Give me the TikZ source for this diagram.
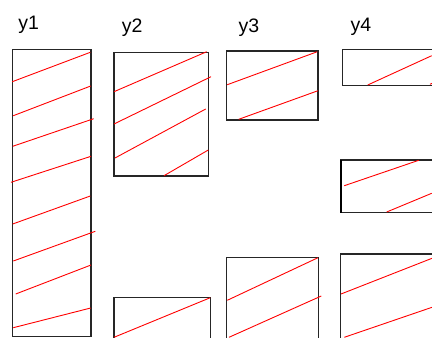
\documentclass[tikz,border=0pt]{standalone}
\usepackage{fontspec}
\setmainfont{Liberation Sans}
\begin{document}
\begin{tikzpicture}[x=1pt,y=-1pt,
  frame/.style={draw=black!85,line width=1.1pt},
  hatch/.style={draw=red,line width=0.9pt},
  lbl/.style={anchor=base west,inner sep=0pt,font=\fontsize{19.5}{20}\selectfont}]
\useasboundingbox (0,0) rectangle (432,338);
\clip (0,0) rectangle (432,338);

% column labels
\node[lbl] (l1) at (18.3,29.5) {y1};
\node[lbl] (l2) at (121.7,32.3) {y2};
\node[lbl] (l3) at (238.5,32.3) {y3};
\node[lbl] (l4) at (350.3,31) {y4};

% column 1
\draw[frame] (12.3,49.3) rectangle (91,336.5);
\draw[hatch] (12.3,81.7) -- (90.3,52.3);
\draw[hatch] (13.3,115.7) -- (90.7,86);
\draw[hatch] (12.7,146.3) -- (93.7,118.7);
\draw[hatch] (11,182.3) -- (91,156.3);
\draw[hatch] (12.7,224) -- (90.3,196);
\draw[hatch] (13.3,261) -- (95.3,231.3);
\draw[hatch] (15.7,294) -- (91,265);
\draw[hatch] (13.3,327.7) -- (90.7,308);

% column 2
\draw[frame] (114,52.7) rectangle (208.5,176);
\draw[hatch] (114,91.7) -- (206.7,51.7);
\draw[hatch] (114,124) -- (211,76.7);
\draw[hatch] (115,158) -- (205.7,109);
\draw[hatch] (164,175.7) -- (208.3,150);
\draw[frame] (114,297.3) rectangle (210.3,338.6);
\draw[hatch] (114,337.3) -- (210.3,297.7);

% column 3
\draw[frame] (226.3,51) rectangle (318,120);
\draw[hatch] (227.3,84.7) -- (317.3,51.7);
\draw[hatch] (238.7,119.3) -- (318,90.7);
\draw[frame] (226.3,257.7) rectangle (318.7,340);
\draw[hatch] (227.3,300.3) -- (318,257.7);
\draw[hatch] (229,337.3) -- (321.3,296);

% column 4
\draw[frame] (342.3,49.7) rectangle (440,85.7);
\draw[hatch] (367.7,85) -- (431.7,55.7);
\draw[hatch] (430,84.3) -- (440,79.8);
\draw[frame] (341,160) rectangle (440,212.7);
\draw[draw=black,line width=2.2pt] (341.2,160) -- (341.2,212.7);
\draw[hatch] (344.3,185.7) -- (418.7,160.3);
\draw[hatch] (386.7,212) -- (431.7,193.3);
\draw[frame] (340.3,254) rectangle (440,340);
\draw[hatch] (341,294) -- (432,258.3);
\draw[hatch] (344.3,337.3) -- (432,307.3);
\end{tikzpicture}
\end{document}
